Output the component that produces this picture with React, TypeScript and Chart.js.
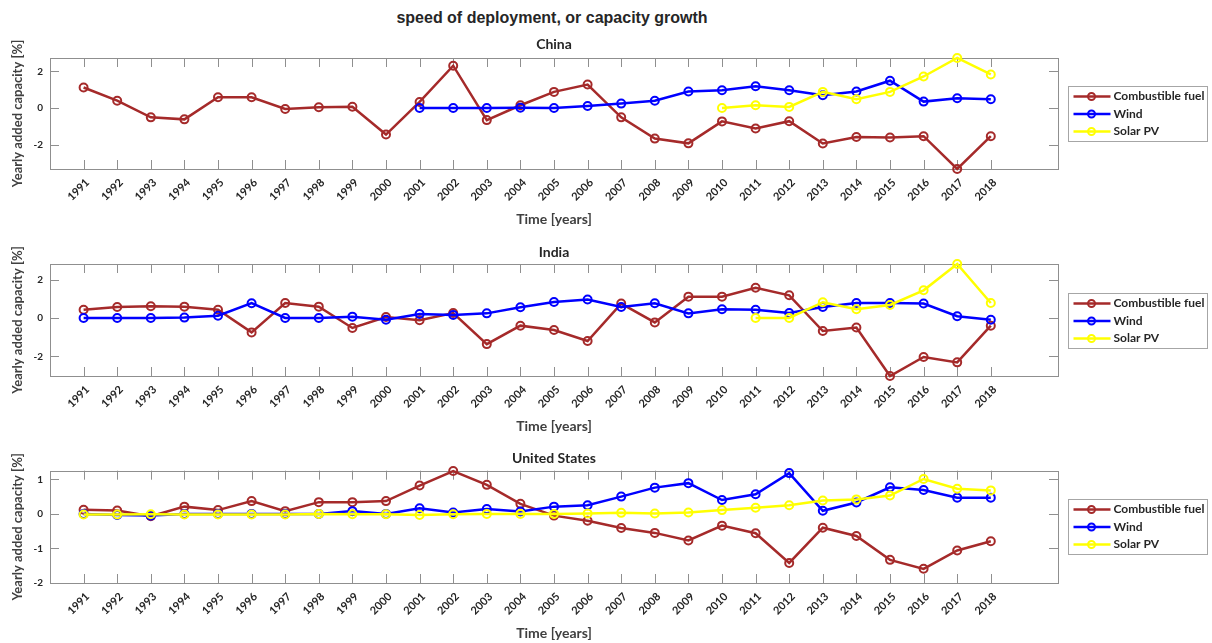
import React, { useEffect, useRef } from 'react';
import { Chart, registerables } from 'chart.js';

Chart.register(...registerables);
Chart.defaults.font.family = 'Lato';

// ---------- data ----------
const years = [1991, 1992, 1993, 1994, 1995, 1996, 1997, 1998, 1999, 2000, 2001, 2002, 2003, 2004, 2005, 2006, 2007, 2008, 2009, 2010, 2011, 2012, 2013, 2014, 2015, 2016, 2017, 2018];

const seriesNames = ['Combustible fuel', 'Wind', 'Solar PV'];
const seriesColors = ['#a52a2a', '#0000ff', '#ffff00'];

const chinaFuel = [1.12, 0.40, -0.51, -0.62, 0.59, 0.59, -0.05, 0.04, 0.07, -1.45, 0.33, 2.31, -0.66, 0.15, 0.88, 1.28, -0.51, -1.67, -1.93, -0.73, -1.12, -0.72, -1.94, -1.58, -1.61, -1.54, -3.33, -1.54];
const chinaWind = [null, null, null, null, null, null, null, null, null, null, 0, 0, 0, 0.02, 0.0, 0.11, 0.24, 0.40, 0.90, 0.97, 1.19, 0.97, 0.70, 0.90, 1.49, 0.35, 0.53, 0.48];
const chinaSolar = [null, null, null, null, null, null, null, null, null, null, null, null, null, null, null, null, null, null, null, 0, 0.15, 0.06, 0.88, 0.48, 0.88, 1.72, 2.73, 1.83];

const indiaFuel = [0.43, 0.57, 0.61, 0.59, 0.43, -0.75, 0.78, 0.59, -0.52, 0.05, -0.12, 0.26, -1.36, -0.40, -0.63, -1.20, 0.75, -0.23, 1.11, 1.11, 1.57, 1.18, -0.68, -0.50, -3.02, -2.03, -2.31, -0.40];
const indiaWind = [0, 0, 0, 0.02, 0.12, 0.77, 0, 0, 0.07, -0.09, 0.21, 0.16, 0.24, 0.56, 0.83, 0.96, 0.57, 0.77, 0.24, 0.45, 0.43, 0.26, 0.57, 0.78, 0.78, 0.75, 0.09, -0.09];
const indiaSolar = [null, null, null, null, null, null, null, null, null, null, null, null, null, null, null, null, null, null, null, null, 0, 0, 0.82, 0.45, 0.68, 1.44, 2.81, 0.78];

const usFuel = [0.12, 0.10, -0.07, 0.21, 0.11, 0.37, 0.08, 0.34, 0.34, 0.37, 0.82, 1.24, 0.84, 0.29, -0.05, -0.20, -0.41, -0.55, -0.77, -0.34, -0.56, -1.42, -0.40, -0.64, -1.33, -1.59, -1.06, -0.79];
const usWind = [0, -0.03, -0.05, 0, 0, 0, 0, 0, 0.08, 0, 0.16, 0.04, 0.14, 0.07, 0.21, 0.25, 0.50, 0.76, 0.89, 0.40, 0.57, 1.18, 0.09, 0.33, 0.77, 0.69, 0.47, 0.47];
const usSolar = [-0.02, -0.02, -0.01, -0.02, -0.02, -0.02, -0.02, 0, -0.01, -0.01, -0.03, -0.01, 0, 0, 0, 0.01, 0.03, 0.01, 0.04, 0.11, 0.18, 0.25, 0.39, 0.42, 0.53, 1.01, 0.73, 0.68];

const yTicksChina = [-2, 0, 2];
const yTicksIndia = [-2, 0, 2];
const yTicksUS = [-2, -1, 0, 1];

const mainTitle = 'speed of deployment, or capacity growth';
const xTitle = 'Time [years]';
const yTitle = 'Yearly added capacity [%]';

// ---------- layout ----------
type Panel = {
  title: string;
  series: (number | null)[][];
  yMin: number;
  yMax: number;
  yTicks: number[];
  top: number;
  height: number;
  padTop: number;
  titlePadBottom: number;
  xAxisHeight: number;
  xTitlePadBottom: number;
};

const panels: Panel[] = [
  { title: 'China', series: [chinaFuel, chinaWind, chinaSolar], yMin: -3.33, yMax: 2.73, yTicks: yTicksChina,
    top: 30, height: 200, padTop: 5.6, titlePadBottom: 5.6, xAxisHeight: 61, xTitlePadBottom: 2.6 },
  { title: 'India', series: [indiaFuel, indiaWind, indiaSolar], yMin: -3.02, yMax: 2.81, yTicks: yTicksIndia,
    top: 236, height: 200, padTop: 7.6, titlePadBottom: 3.6, xAxisHeight: 60, xTitlePadBottom: 1.6 },
  { title: 'United States', series: [usFuel, usWind, usSolar], yMin: -2, yMax: 1.25, yTicks: yTicksUS,
    top: 442, height: 201, padTop: 7.6, titlePadBottom: 4.3, xAxisHeight: 60, xTitlePadBottom: 1.6 },
];

const TICK_LEN = 9;
const BOX_COLOR = '#8f8f8f';
const TEXT_COLOR = '#262626';

const matlabPlugin = {
  id: 'matlabBox',
  beforeDatasetsDraw(chart: any) {
    const { ctx, chartArea: a, scales } = chart;
    ctx.save();
    ctx.strokeStyle = BOX_COLOR;
    ctx.lineWidth = 1;
    ctx.beginPath();
    scales.x.ticks.forEach((t: any) => {
      const px = Math.round(scales.x.getPixelForValue(t.value)) + 0.5;
      ctx.moveTo(px, a.bottom);
      ctx.lineTo(px, a.bottom - TICK_LEN);
      ctx.moveTo(px, a.top);
      ctx.lineTo(px, a.top + TICK_LEN);
    });
    scales.y.ticks.forEach((t: any) => {
      const py = Math.round(scales.y.getPixelForValue(t.value)) + 0.5;
      ctx.moveTo(a.left, py);
      ctx.lineTo(a.left + TICK_LEN, py);
      ctx.moveTo(a.right, py);
      ctx.lineTo(a.right - TICK_LEN, py);
    });
    ctx.stroke();
    ctx.strokeRect(Math.round(a.left) + 0.5, Math.round(a.top) + 0.5, Math.round(a.right - a.left), Math.round(a.bottom - a.top));
    ctx.restore();
  },
  afterDraw(chart: any) {
    const { ctx, chartArea: a } = chart;
    const w = 139;
    const h = 55;
    const x0 = Math.round(a.right + 10) + 0.5;
    const y0 = Math.round((a.top + a.bottom) / 2 - h / 2) + 0.5;
    ctx.save();
    ctx.fillStyle = '#ffffff';
    ctx.fillRect(x0, y0, w, h);
    ctx.strokeStyle = '#a6a6a6';
    ctx.lineWidth = 1;
    ctx.strokeRect(x0, y0, w, h);
    chart.data.datasets.forEach((ds: any, i: number) => {
      const cy = y0 + 10 + i * 17.5;
      ctx.strokeStyle = ds.borderColor;
      ctx.lineWidth = 2.5;
      ctx.beginPath();
      ctx.moveTo(x0 + 5, cy);
      ctx.lineTo(x0 + 42, cy);
      ctx.stroke();
      ctx.lineWidth = 2;
      ctx.beginPath();
      ctx.arc(x0 + 23, cy, 3.5, 0, Math.PI * 2);
      ctx.stroke();
      ctx.fillStyle = TEXT_COLOR;
      ctx.font = 'bold 12px Lato';
      ctx.textBaseline = 'middle';
      ctx.textAlign = 'left';
      ctx.fillText(ds.label, x0 + 45, cy);
    });
    ctx.restore();
  },
};

function PanelChart({ panel }: { panel: Panel }) {
  const ref = useRef<HTMLCanvasElement>(null);
  useEffect(() => {
    if (!ref.current) return;
    const datasets = panel.series.map((vals, i) => ({
      label: seriesNames[i],
      data: years.map((yr, k) => ({ x: yr, y: vals[k] })),
      borderColor: seriesColors[i],
      backgroundColor: seriesColors[i],
      pointBorderColor: seriesColors[i],
      pointBackgroundColor: 'rgba(0,0,0,0)',
      borderWidth: 2.5,
      pointRadius: 4,
      pointBorderWidth: 2,
      tension: 0,
      clip: false as any,
      spanGaps: false,
      order: 2 - i,
    }));
    const chart = new Chart(ref.current, {
      type: 'line',
      data: { datasets },
      plugins: [matlabPlugin],
      options: {
        responsive: false,
        animation: false,
        devicePixelRatio: 1,
        events: [],
        layout: { padding: { top: panel.padTop, right: 154, left: 0, bottom: 0 } },
        plugins: {
          legend: { display: false },
          tooltip: { enabled: false },
          title: {
            display: true,
            text: panel.title,
            fullSize: false,
            color: TEXT_COLOR,
            font: { family: 'Lato', size: 14, weight: 'bold' },
            padding: { top: 0, bottom: panel.titlePadBottom },
          },
        },
        scales: {
          x: {
            type: 'linear',
            min: 1990,
            max: 2020,
            grid: { display: false, drawTicks: false },
            border: { display: false },
            afterBuildTicks: (s: any) => { s.ticks = years.map((v) => ({ value: v })); },
            afterFit: (s: any) => { s.height = panel.xAxisHeight; },
            ticks: {
              autoSkip: false,
              minRotation: 45,
              maxRotation: 45,
              padding: 7,
              labelOffset: 4,
              color: TEXT_COLOR,
              font: { size: 11, weight: 'bold' },
              callback: (v: any) => String(v),
            },
            title: {
              display: true,
              text: xTitle,
              color: '#404040',
              font: { size: 14, weight: 'bold' },
              padding: { top: 0, bottom: panel.xTitlePadBottom },
            },
          },
          y: {
            type: 'linear',
            min: panel.yMin,
            max: panel.yMax,
            grid: { display: false, drawTicks: false },
            border: { display: false },
            afterBuildTicks: (s: any) => { s.ticks = panel.yTicks.map((v) => ({ value: v })); },
            afterFit: (s: any) => { s.width = 50; },
            ticks: {
              padding: 7,
              color: TEXT_COLOR,
              font: { size: 10, weight: 'bold' },
              callback: (v: any) => String(v),
            },
            title: {
              display: true,
              text: yTitle,
              color: '#404040',
              font: { size: 13, weight: 'bold' },
              padding: { top: 10, bottom: 0 },
            },
          },
        },
      } as any,
    });
    return () => chart.destroy();
  }, [panel]);
  return (
    <div style={{ position: 'absolute', left: 0, top: panel.top, width: 1212, height: panel.height }}>
      <canvas ref={ref} width={1212} height={panel.height} style={{ display: 'block' }} />
    </div>
  );
}

export default function App() {
  return (
    <div style={{ position: 'absolute', left: 0, top: 0, width: 1212, height: 643, background: '#ffffff', overflow: 'hidden' }}>
      <div
        style={{
          position: 'absolute',
          left: 0,
          top: 8,
          width: 1104,
          textAlign: 'center',
          font: 'bold 16px "Liberation Sans", Arial, sans-serif',
          lineHeight: '20px',
          color: TEXT_COLOR,
        }}
      >
        {mainTitle}
      </div>
      {panels.map((p) => (
        <PanelChart key={p.title} panel={p} />
      ))}
    </div>
  );
}
